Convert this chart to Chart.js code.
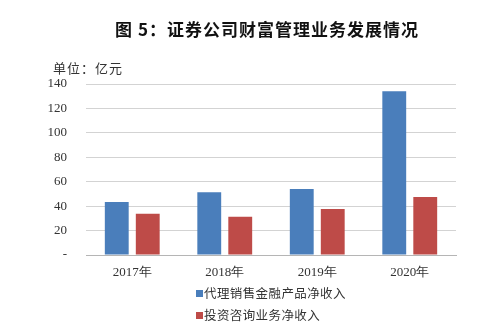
<!DOCTYPE html>
<html>
<head>
<meta charset="utf-8">
<script src="https://cdn.jsdelivr.net/npm/chart.js@4"></script>
<style>
  html, body { margin: 0; padding: 0; background: #fff; }
  #wrap { position: relative; width: 500px; height: 332px; overflow: hidden; }
  #chart { position: absolute; left: 0; top: 0; }
  .title {
    position: absolute; left: 0; width: 534px; top: 16px; text-align: center;
    font: bold 17px "Noto Sans CJK SC", sans-serif; letter-spacing: 1px; color: #111;
  }
  .unit {
    position: absolute; left: 53px; top: 58px;
    font: 13px "Noto Sans CJK SC", sans-serif; letter-spacing: 1px; color: #333;
  }
  .legend { position: absolute; left: 196px; top: 283px; }
  .legend div {
    height: 22px; line-height: 20px; white-space: nowrap;
    font: 12.5px "Noto Sans CJK SC", sans-serif; letter-spacing: 0.4px; color: #333;
  }
  .legend span {
    display: inline-block; width: 7px; height: 7px; margin-right: 1px; vertical-align: 1px;
  }
</style>
</head>
<body>
<div id="wrap">
  <canvas id="chart" width="500" height="332"></canvas>
  <div class="title">图 5：证券公司财富管理业务发展情况</div>
  <div class="unit">单位：亿元</div>
  <div class="legend" id="legend"></div>
</div>
<script>
const years = ['2017年', '2018年', '2019年', '2020年'];
const agencySales = [43.4, 51.3, 54.1, 134.0];
const advisory = [33.8, 31.3, 37.6, 47.5];
const seriesNames = ['代理销售金融产品净收入', '投资咨询业务净收入'];
const seriesColors = ['#4a7ebb', '#be4b48'];

const TICK_FONT = { family: '"Liberation Serif", "Times New Roman", serif', size: 13 };

const datasets = [agencySales, advisory].map((data, i) => ({
  label: seriesNames[i],
  data,
  backgroundColor: seriesColors[i],
  borderWidth: 0,
  categoryPercentage: 0.67,
  barPercentage: 0.77,
}));

new Chart(document.querySelector('#chart'), {
  type: 'bar',
  data: { labels: years, datasets },
  options: {
    responsive: false,
    animation: false,
    layout: { padding: { top: 84, right: 44, bottom: 47, left: 0 } },
    plugins: {
      legend: { display: false },
      title: { display: false },
      tooltip: { enabled: false },
    },
    scales: {
      x: {
        grid: { display: false, drawTicks: false },
        border: { color: '#b5b5b5', width: 1 },
        ticks: { color: '#333', font: TICK_FONT, padding: 10 },
        afterFit: (scale) => { scale.height = 30; },
      },
      y: {
        min: 0,
        max: 140,
        ticks: {
          stepSize: 20,
          color: '#333',
          font: TICK_FONT,
          padding: 19,
          callback: (v) => (v === 0 ? '-' : v),
        },
        grid: { color: '#d3d3d3', drawTicks: false },
        border: { display: false },
        afterFit: (scale) => { scale.width = 86; },
      },
    },
  },
});

document.querySelector('#legend').innerHTML = seriesNames
  .map((name, i) => `<div><span style="background:${seriesColors[i]}"></span>${name}</div>`)
  .join('');
</script>
</body>
</html>
